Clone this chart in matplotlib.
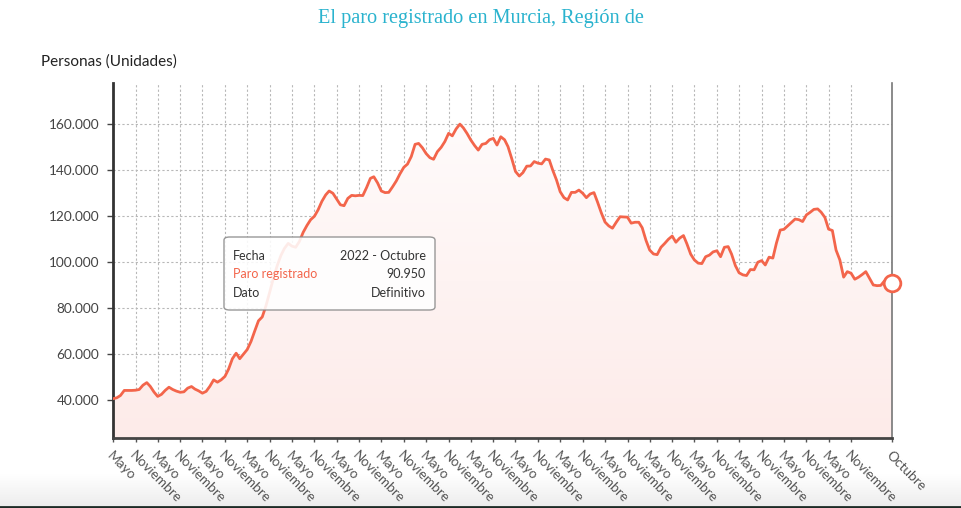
import matplotlib.pyplot as plt
import matplotlib.dates as mdates
import numpy as np
import pandas as pd
from matplotlib.colors import LinearSegmentedColormap
from matplotlib.patches import FancyBboxPatch
from matplotlib.ticker import FuncFormatter

# paro registrado, Murcia, mensual (mayo 2005 - octubre 2022)
v2005 = [40600, 41000, 42000, 44200, 44200, 44200, 44300, 44600]
v2006 = [46500, 47600, 46000, 43500, 41600, 42500, 44200, 45600, 44600, 43900, 43400, 43600]
v2007 = [45200, 45900, 44800, 44000, 43000, 43800, 46000, 48800, 47800, 48800, 50300, 53500]
v2008 = [58000, 60400, 58000, 60000, 62000, 65500, 70000, 74500, 76200, 81000, 87000, 93000]
v2009 = [98500, 103000, 106000, 108200, 107000, 106500, 109000, 113000, 116000, 118500, 120000, 122800]
v2010 = [126500, 129300, 131000, 130000, 127500, 125000, 124600, 127800, 129100, 128900, 129100, 129000]
v2011 = [132500, 136500, 137200, 134500, 131000, 130300, 130400, 132800, 135400, 138500, 141300, 142700]
v2012 = [146000, 151300, 151700, 149800, 147300, 145500, 144800, 148100, 150000, 152500, 156100, 155000]
v2013 = [158000, 160100, 158500, 156000, 153200, 150800, 148800, 151300, 151700, 153300, 153900, 151000]
v2014 = [154600, 153300, 150300, 145000, 139500, 137500, 139000, 141800, 141900, 143800, 143100, 142800]
v2015 = [144900, 144500, 140100, 135800, 130700, 128100, 127100, 130400, 130400, 131400, 130000, 128100]
v2016 = [129700, 130300, 126200, 121500, 117500, 115800, 114800, 117400, 119800, 119700, 119600, 117000]
v2017 = [117400, 117400, 115000, 109500, 105300, 103600, 103300, 106500, 108200, 110000, 111400, 108700]
v2018 = [110500, 111600, 108000, 103500, 101000, 99600, 99400, 102400, 103100, 104500, 105000, 102400]
v2019 = [106500, 106800, 103500, 98500, 95400, 94500, 94200, 96800, 96700, 100000, 100700, 98800]
v2020 = [102200, 101800, 108300, 114000, 114300, 115800, 117300, 118800, 118500, 117700, 120600, 121700]
v2021 = [123000, 123200, 121800, 119500, 114400, 113800, 105300, 101000, 93500, 95900, 95200, 92600]
v2022 = [93500, 94700, 95900, 93000, 90100, 89800, 89900, 91900, 91500, 90950]

paro = (v2005 + v2006 + v2007 + v2008 + v2009 + v2010 + v2011 + v2012 + v2013
        + v2014 + v2015 + v2016 + v2017 + v2018 + v2019 + v2020 + v2021 + v2022)
fechas = pd.date_range("2005-05-01", "2022-10-01", freq="MS")

tick_fechas = list(pd.date_range("2005-05-01", "2021-11-01", freq="6MS")) + [fechas[-1]]
tick_labels = ["Mayo" if f.month == 5 else "Noviembre" for f in tick_fechas[:-1]] + ["Octubre"]
y_ticks = [40000, 60000, 80000, 100000, 120000, 140000, 160000]

linea = "#f3654b"
plt.rcParams["font.family"] = ["Lato", "DejaVu Sans"]

fig = plt.figure(figsize=(9.62, 5.08), dpi=100)
ax = fig.add_axes([113 / 962, 1 - 438 / 508, 779 / 962, 355 / 508])

ymin, ymax = 23500, 178000
x = mdates.date2num(fechas)

# relleno degradado bajo la curva
poly = ax.fill_between(fechas, paro, ymin, color="none", lw=0)
grad = LinearSegmentedColormap.from_list("g", ["#fdebe9", "#fffbfb"])
im = ax.imshow(np.linspace(0, 1, 256).reshape(-1, 1), cmap=grad, origin="lower",
               extent=[x[0], x[-1], ymin, max(paro)], aspect="auto", zorder=1)
im.set_clip_path(poly.get_paths()[0], transform=ax.transData)

ax.plot(fechas, paro, color=linea, lw=2, zorder=3)
ax.plot(fechas[-1:], paro[-1:], "o", ms=12, mfc="white", mec=linea, mew=2,
        zorder=5, clip_on=False)

ax.set_xlim(x[0], x[-1])
ax.set_ylim(ymin, ymax)
ax.set_xticks(tick_fechas)
ax.set_xticklabels(tick_labels, rotation=-45, ha="left", va="top",
                   rotation_mode="anchor", fontsize=9.8, color="#555555")
ax.set_yticks(y_ticks)
ax.yaxis.set_major_formatter(FuncFormatter(lambda v, p: f"{int(v):,}".replace(",", ".")))
ax.tick_params(axis="y", labelsize=9.8, colors="#444444", length=4, width=1, pad=6)
ax.tick_params(axis="x", length=3, width=1, colors="#555555", pad=5)

ax.grid(True, color="#b8b8b8", linestyle=(0, (2, 2)), lw=0.8)
ax.set_axisbelow(True)
ax.spines["top"].set_visible(False)
ax.spines["left"].set_color("#333333")
ax.spines["left"].set_linewidth(2)
ax.spines["bottom"].set_color("#444444")
ax.spines["bottom"].set_linewidth(2)
ax.spines["right"].set_color("#777777")
ax.spines["right"].set_linewidth(1.2)

fig.text(41 / 962, 1 - 62 / 508, "Personas (Unidades)", fontsize=11, color="#222222",
         va="center", ha="left")
fig.text(0.5, 1 - 19 / 508, "El paro registrado en Murcia, Región de",
         family="Liberation Serif", fontsize=14.6, color="#2ab3ce", ha="center", va="center")

# cuadro de información
caja = FancyBboxPatch((224 / 962, 1 - 310 / 508), 211 / 962, 73 / 508,
                      boxstyle="round,pad=0,rounding_size=0.006", transform=fig.transFigure,
                      facecolor="white", edgecolor="#8a8a8a", lw=1, alpha=0.88, zorder=10)
fig.patches.append(caja)
filas = [("Fecha", "2022 - Octubre", "#333333"),
         ("Paro registrado", "90.950", linea),
         ("Dato", "Definitivo", "#333333")]
for i, (izq, der, col) in enumerate(filas):
    yy = 1 - (256 + i * 18.5) / 508
    fig.text(233 / 962, yy, izq, fontsize=9, color=col, va="center", zorder=11)
    fig.text(426 / 962, yy, der, fontsize=9, color="#333333", va="center", ha="right", zorder=11)

# franja gris inferior
fondo = fig.add_axes([0, 0, 1, 34 / 508])
fondo.set_zorder(-1)
fondo.imshow(np.linspace(0, 1, 64).reshape(-1, 1), origin="lower", aspect="auto",
             cmap=LinearSegmentedColormap.from_list("b", ["#ececec", "#ffffff"]),
             extent=[0, 1, 0, 1])
fondo.axhline(0.02, color="#1d2b26", lw=2)
fondo.set_xlim(0, 1)
fondo.set_ylim(0, 1)
fondo.axis("off")

fig.savefig("out.png", dpi=100)
